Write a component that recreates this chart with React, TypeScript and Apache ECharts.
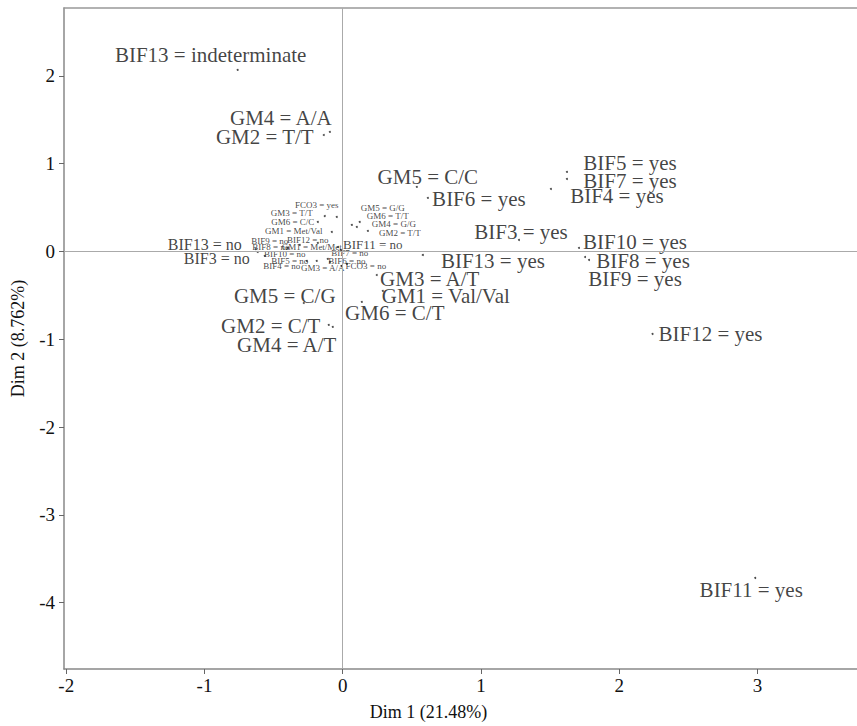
import React, { useEffect, useRef } from "react";
import * as echarts from "echarts";

// Category labels of the MCA map
const labels = [
  "BIF13 = indeterminate", "GM4 = A/A", "GM2 = T/T", "GM5 = C/C", "BIF6 = yes",
  "BIF5 = yes", "BIF7 = yes", "BIF4 = yes", "BIF3 = yes", "BIF10 = yes",
  "BIF9 = yes", "BIF8 = yes", "BIF13 = yes", "GM3 = A/T", "GM1 = Val/Val",
  "GM6 = C/T", "BIF12 = yes", "BIF11 = yes", "GM5 = C/G", "GM2 = C/T",
  "GM4 = A/T", "BIF13 = no", "BIF3 = no", "BIF11 = no",
  "FCO3 = yes", "GM3 = T/T", "GM6 = C/C", "GM1 = Met/Val",
  "GM5 = G/G", "GM6 = T/T", "GM4 = G/G", "GM2 = T/T",
  "BIF9 = no", "BIF12 = no", "BIF8 = no", "GM1 = Met/Met", "BIF10 = no",
  "BIF5 = no", "BIF4 = no", "GM3 = A/A", "BIF7 = no", "BIF6 = no", "FCO3 = no",
];
// Dim 1 coordinates
const dim1 = [
  -0.76, -0.093, -0.137, 0.536, 0.616,
  1.622, 1.622, 1.506, 1.275, 1.709,
  1.753, 1.782, 0.58, 0.246, 0.29,
  0.138, 2.241, 2.984, -0.282, -0.101,
  -0.072, -0.629, -0.615, -0.014,
  -0.043, -0.13, -0.18, -0.079,
  0.123, 0.102, 0.066, 0.182,
  -0.311, -0.18, -0.035, -0.397, -0.564,
  -0.26, -0.188, -0.007, -0.108, -0.093, 0.03,
];
// Dim 2 coordinates
const dim2 = [
  2.068, 1.362, 1.327, 0.735, 0.61,
  0.906, 0.826, 0.712, 0.131, 0.04,
  -0.063, -0.097, -0.04, -0.268, -0.45,
  -0.575, -0.94, -3.72, -0.587, -0.837,
  -0.86, 0.028, -0.006, 0.017,
  0.393, 0.404, 0.336, 0.222,
  0.336, 0.279, 0.302, 0.234,
  0.074, 0.097, 0.051, 0.04, -0.051,
  -0.108, -0.108, -0.165, -0.085, -0.12, -0.142,
];
const xTicks = [-2, -1, 0, 1, 2, 3];
const yTicks = [-4, -3, -2, -1, 0, 1, 2];

// label layout (pixel offsets of label centre from the point, font size)
const labelOffsets: [number, number][] = [
  [-27, -15], [-49, -14], [-59, 2], [11, -10], [51, 1],
  [63, -9], [63, 2], [66, 7], [2, -8], [56, -6],
  [50, 22], [54, 1], [70, 6], [53, 4], [63, 5],
  [33, 11], [58, 0], [-4, 12], [-19, -7], [-58, 1],
  [-46, 18], [-51, -5], [-41, 6], [32, -5],
  [-20, -12], [-33, -3], [-25, 0], [-38, -1],
  [23, -14], [31, -11], [42, -1], [32, 2],
  [-30, -4], [-10, -3], [-67, 0], [24, -1], [20, -2],
  [-17, 0], [-35, 5], [-19, 2], [22, -6], [17, -1], [19, 2],
];
const labelSizes = labels.map((_, i) => (i < 21 ? 21 : i < 23 ? 16 : i === 23 ? 13 : 9));

const FONT = "Liberation Serif";

export default function App() {
  const ref = useRef<HTMLDivElement>(null);
  useEffect(() => {
    if (!ref.current) return;
    const chart = echarts.init(ref.current, undefined, { renderer: "svg" });
    const data = labels.map((name, i) => ({
      name,
      value: [dim1[i], dim2[i]],
      label: { offset: labelOffsets[i], fontSize: labelSizes[i] },
    }));
    chart.setOption({
      animation: false,
      backgroundColor: "#ffffff",
      textStyle: { fontFamily: FONT },
      grid: { left: 64, top: 8, right: 0, bottom: 57, containLabel: false, outerBoundsMode: "none" },
      xAxis: [
        {
          type: "value",
          min: -2.016,
          max: 3.72,
          name: "Dim 1 (21.48%)",
          nameLocation: "middle",
          nameGap: 34,
          nameTextStyle: { fontFamily: FONT, fontSize: 18, color: "#111", padding: [0, 64, 0, 0] },
          splitLine: { show: false },
          axisLine: { show: true, onZero: false, lineStyle: { color: "#888", width: 1.5 } },
          axisTick: { show: true, length: 5, customValues: xTicks, lineStyle: { color: "#666" } },
          axisLabel: { customValues: xTicks, fontFamily: FONT, fontSize: 19, color: "#111", margin: 7 },
        },
        {
          type: "value",
          position: "top",
          min: -2.016,
          max: 3.72,
          splitLine: { show: false },
          axisLine: { show: true, onZero: false, lineStyle: { color: "#999", width: 1.5 } },
          axisTick: { show: false },
          axisLabel: { show: false },
        },
      ],
      yAxis: {
        type: "value",
        min: -4.757,
        max: 2.774,
        name: "Dim 2 (8.762%)",
        nameLocation: "middle",
        nameGap: 37,
        nameRotate: 90,
        nameTextStyle: { fontFamily: FONT, fontSize: 18, color: "#111" },
        splitLine: { show: false },
        axisLine: { show: true, onZero: false, lineStyle: { color: "#888", width: 1.5 } },
        axisTick: { show: true, length: 5, customValues: yTicks, lineStyle: { color: "#666" } },
        axisLabel: { customValues: yTicks, fontFamily: FONT, fontSize: 19, color: "#111", margin: 9 },
      },
      series: [
        {
          type: "scatter",
          symbol: "circle",
          symbolSize: 2,
          itemStyle: { color: "#222" },
          data,
          label: {
            show: true,
            position: "inside",
            formatter: "{b}",
            color: "#111",
            fontFamily: FONT,
            align: "center",
            verticalAlign: "middle",
          },
          markLine: {
            silent: true,
            symbol: "none",
            label: { show: false },
            lineStyle: { color: "#aaa", width: 1, type: "solid" },
            data: [{ xAxis: 0 }, { yAxis: 0 }],
          },
        },
      ],
    });
    return () => chart.dispose();
  }, []);
  return (
    <div
      ref={ref}
      style={{ position: "fixed", left: 0, top: 0, width: 857, height: 726 }}
    />
  );
}
